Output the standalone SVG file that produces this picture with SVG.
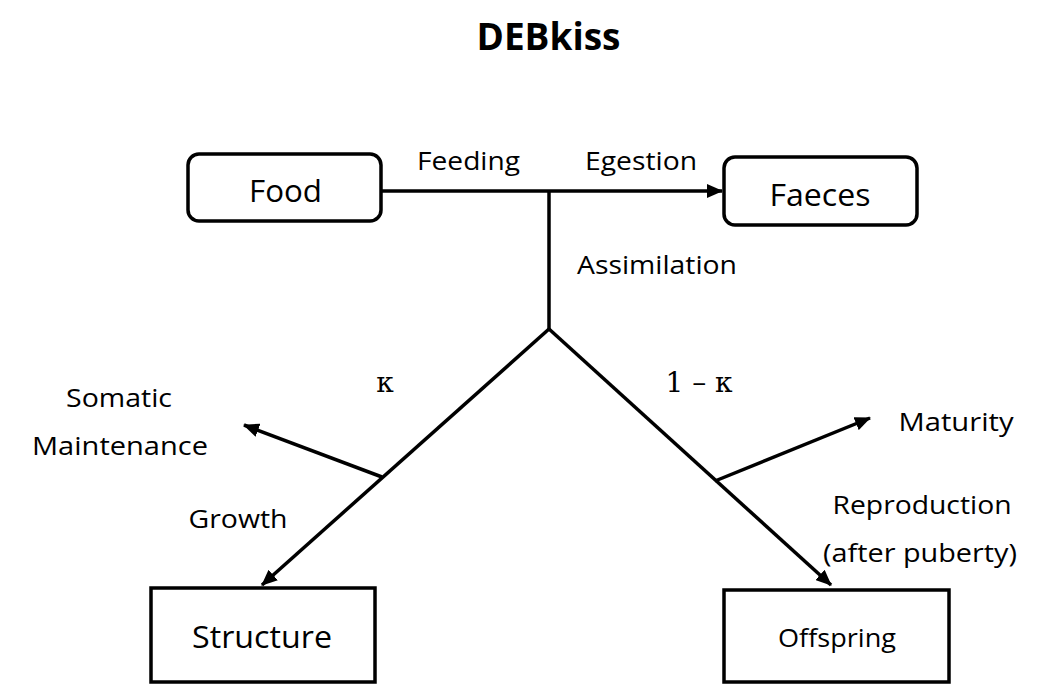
<svg xmlns="http://www.w3.org/2000/svg" width="1043" height="686" viewBox="0 0 1043 686">
<style>
  text { font-family: "Open Sans", "Liberation Sans", sans-serif; fill: #000; }
  .lbl { font-size: 26px; }
  .big { font-size: 31px; }
  .math { font-family: "DejaVu Serif", "Liberation Serif", serif; font-size: 28px; }
  .title { font-size: 38px; font-weight: bold; }
  .box { fill: #fff; stroke: #000; stroke-width: 3.5; }
  .conn { fill: none; stroke: #000; stroke-width: 3.5; }
</style>
<defs>
  <marker id="arr" markerUnits="userSpaceOnUse" markerWidth="16" markerHeight="14" refX="15" refY="7" orient="auto">
    <path d="M0,0 L16,7 L0,14 z" fill="#000"/>
  </marker>
</defs>
<rect width="1043" height="686" fill="#fff"/>
<text class="title" x="548.5" y="50" text-anchor="middle" textLength="144" lengthAdjust="spacingAndGlyphs">DEBkiss</text>

<g id="connectors">
  <path class="conn" d="M381,191 H722" marker-end="url(#arr)"/>
  <path class="conn" d="M549,191 V329"/>
  <path class="conn" d="M549,329 L262,585" marker-end="url(#arr)"/>
  <path class="conn" d="M549,329 L831,585" marker-end="url(#arr)"/>
  <path class="conn" d="M382,477 L244,425" marker-end="url(#arr)"/>
  <path class="conn" d="M715,481 L870,418" marker-end="url(#arr)"/>
</g>

<g id="labels">
  <text class="lbl" x="468.5" y="170" text-anchor="middle" textLength="103" lengthAdjust="spacingAndGlyphs">Feeding</text>
  <text class="lbl" x="641" y="170" text-anchor="middle" textLength="112" lengthAdjust="spacingAndGlyphs">Egestion</text>
  <text class="lbl" x="657" y="274" text-anchor="middle" textLength="160" lengthAdjust="spacingAndGlyphs">Assimilation</text>
  <text class="math" x="385" y="392" text-anchor="middle">κ</text>
  <text class="math" x="699" y="392" text-anchor="middle">1 – κ</text>
  <text class="lbl" x="119" y="407" text-anchor="middle" textLength="106" lengthAdjust="spacingAndGlyphs">Somatic</text>
  <text class="lbl" x="120" y="455" text-anchor="middle" textLength="176" lengthAdjust="spacingAndGlyphs">Maintenance</text>
  <text class="lbl" x="238" y="528" text-anchor="middle" textLength="99" lengthAdjust="spacingAndGlyphs">Growth</text>
  <text class="lbl" x="956" y="431" text-anchor="middle" textLength="115" lengthAdjust="spacingAndGlyphs">Maturity</text>
  <text class="lbl" x="922" y="514" text-anchor="middle" textLength="179" lengthAdjust="spacingAndGlyphs">Reproduction</text>
  <text class="lbl" x="920" y="562" text-anchor="middle" textLength="194" lengthAdjust="spacingAndGlyphs">(after puberty)</text>
</g>

<g id="food">
  <rect class="box" x="188" y="154" width="193" height="67" rx="11"/>
  <text class="big" x="285.5" y="202" text-anchor="middle" textLength="73" lengthAdjust="spacingAndGlyphs">Food</text>
</g>
<g id="faeces">
  <rect class="box" x="724" y="157" width="193" height="68" rx="11"/>
  <text class="big" x="820" y="206" text-anchor="middle" textLength="101" lengthAdjust="spacingAndGlyphs">Faeces</text>
</g>
<g id="structure">
  <rect class="box" x="151" y="588" width="224" height="94"/>
  <text class="big" x="262" y="648" text-anchor="middle" textLength="140" lengthAdjust="spacingAndGlyphs">Structure</text>
</g>
<g id="offspring">
  <rect class="box" x="724" y="590" width="225" height="92"/>
  <text class="lbl" x="837" y="647" text-anchor="middle" textLength="118" lengthAdjust="spacingAndGlyphs">Offspring</text>
</g>
</svg>
